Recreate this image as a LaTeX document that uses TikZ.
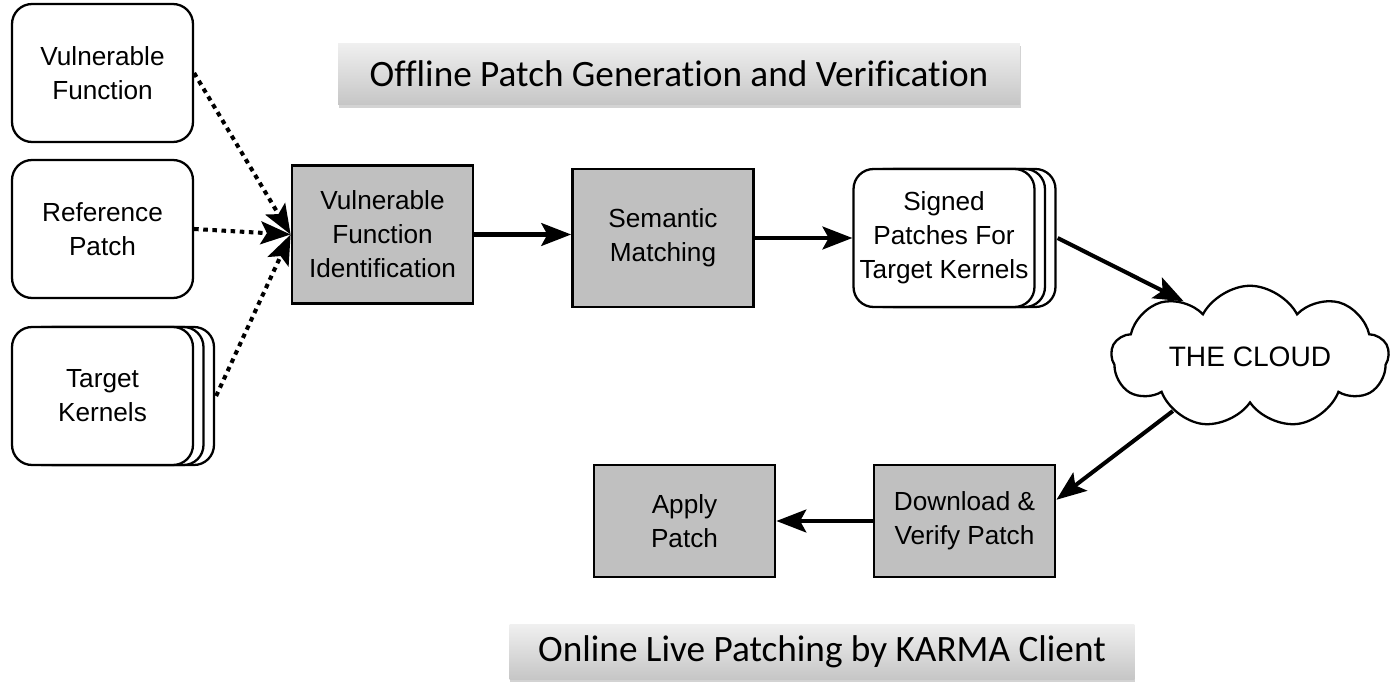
\documentclass[tikz,border=0pt]{standalone}
\usepackage{fontspec}
\setmainfont{Liberation Sans}
\newfontfamily\titlefont[Ligatures=CommonOff]{Carlito}
\usetikzlibrary{arrows.meta,shapes.symbols,shadows}
\definecolor{boxgray}{HTML}{C0C0C0}

\begin{document}
\begin{tikzpicture}[x=0.02cm,y=-0.02cm,
    txt/.style={font=\fontsize{14.9pt}{19.3pt}\selectfont, align=center, inner sep=0pt},
    inbox/.style={txt, draw, fill=white, line width=1.3pt, rounded corners=0.4cm,
      minimum width=3.62cm, minimum height=2.76cm},
    stackbox/.style={inbox, double copy shadow={shadow xshift=0.21cm, shadow yshift=0cm}},
    stepbox/.style={txt, draw, fill=boxgray, line width=1.6pt,
      minimum width=3.62cm, minimum height=2.76cm},
    titlebox/.style={font=\titlefont\fontsize{21.2pt}{25pt}\selectfont,
      top color=gray!12, bottom color=gray!45, inner sep=0pt,
      drop shadow={shadow xshift=0.4pt, shadow yshift=-1.6pt, opacity=0.35}},
    conn/.style={line width=2.3pt, -{Stealth[length=17pt, width=13pt, inset=3.5pt]}},
    dots/.style={conn, dash pattern=on 2.6pt off 2.6pt}]
  \useasboundingbox (0,0) rectangle (1393,682);

  % inputs
  \node[inbox] (vf) at (102.5,73) {Vulnerable\\Function};
  \node[inbox] (rp) at (102.5,229) {Reference\\Patch};
  \node[stackbox] (tk) at (102.5,396) {Target\\Kernels};
  \coordinate (tkback) at ([xshift=0.44cm]tk.east);

  % offline steps
  \node[stepbox] (vfi) at (382.5,234.5) {Vulnerable\\Function\\Identification};
  \node[stepbox] (sm) at (663,238) {Semantic\\Matching};
  \node[stackbox] (sp) at (944,238) {Signed\\Patches For\\Target Kernels};
  \coordinate (spback) at ([xshift=0.44cm]sp.east);

  \node[txt, draw, fill=white, line width=1.3pt, cloud, cloud puffs=9, cloud puff arc=125,
    cloud ignores aspect, minimum width=5.55cm, minimum height=2.85cm,
    font=\fontsize{16pt}{19pt}\selectfont] (cloud) at (1250,357) {THE CLOUD};

  % online steps
  \node[stepbox, minimum height=2.24cm] (dv) at (964.5,521) {Download \&\\Verify Patch};
  \node[stepbox, minimum height=2.24cm] (ap) at (684.5,521) {Apply\\Patch};

  \node[titlebox, minimum width=13.64cm, minimum height=1.24cm] (off) at (679,74)
    {Offline Patch Generation and Verification};
  \node[titlebox, minimum width=12.5cm, minimum height=1.1cm] (on) at (822,652)
    {Online Live Patching by KARMA Client};

  \draw[dots] (vf.east) -- (vfi.west);
  \draw[dots] (rp.east) -- (vfi.west);
  \draw[dots] (tkback) -- (vfi.west);
  \draw[conn] (vfi.east) -- (vfi.east -| sm.west);
  \draw[conn] (sm) -- (sp);
  \draw[conn] (spback) -- (cloud.140);
  \draw[conn] (cloud.215) -- (dv.13);
  \draw[conn] (dv) -- (ap);
\end{tikzpicture}
\end{document}
